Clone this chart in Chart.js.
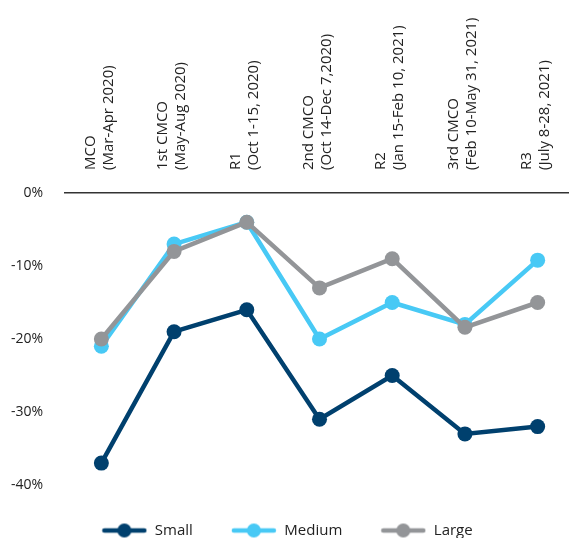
<!DOCTYPE html>
<html>
<head>
<meta charset="utf-8">
<script src="https://cdn.jsdelivr.net/npm/chart.js@4.4.1/dist/chart.umd.min.js"></script>
<style>
	html, body { margin: 0; padding: 0; background: #fff; overflow: hidden; }
	#wrap { position: relative; width: 574px; height: 538px; }
</style>
</head>
<body>
<div id="wrap"><canvas id="phaseChart"></canvas></div>
<script>
// Phases (two-line labels)
const phases = [
	['MCO', '(Mar-Apr 2020)'],
	['1st CMCO', '(May-Aug 2020)'],
	['R1', '(Oct 1-15, 2020)'],
	['2nd CMCO', '(Oct 14-Dec 7,2020)'],
	['R2', '(Jan 15-Feb 10, 2021)'],
	['3rd CMCO', '(Feb 10-May 31, 2021)'],
	['R3', '(July 8-28, 2021)']
];

// Percent change by firm size
const smallFirms = [-37, -19, -16, -31, -25, -33, -32];
const mediumFirms = [-21, -7, -4, -20, -15, -18, -9.2];
const largeFirms = [-20, -8, -4, -13, -9, -18.4, -15];

const yTicks = [0, -10, -20, -30, -40];

const COLORS = { small: '#00406e', medium: '#48c9f5', large: '#939598' };
const FONT = '"Open Sans", Lato, sans-serif';

// line-with-dot icon for the legend
function legendIcon(color) {
	const c = document.createElement('canvas');
	c.width = 46;
	c.height = 16;
	const ctx = c.getContext('2d');
	ctx.strokeStyle = color;
	ctx.lineWidth = 4.5;
	ctx.lineCap = 'round';
	ctx.beginPath();
	ctx.moveTo(3, 8);
	ctx.lineTo(43, 8);
	ctx.stroke();
	ctx.fillStyle = color;
	ctx.beginPath();
	ctx.arc(23, 8, 7, 0, Math.PI * 2);
	ctx.fill();
	return c;
}
const icons = [legendIcon(COLORS.small), legendIcon(COLORS.medium), legendIcon(COLORS.large)];

function series(label, data, color, order) {
	return {
		label: label,
		data: data,
		borderColor: color,
		backgroundColor: color,
		borderWidth: 4.5,
		pointRadius: 7.5,
		pointHoverRadius: 7.5,
		pointBackgroundColor: color,
		pointBorderWidth: 0,
		tension: 0,
		order: order
	};
}

new Chart(document.getElementById('phaseChart'), {
	type: 'line',
	data: {
		labels: phases,
		datasets: [
			series('Small', smallFirms, COLORS.small, 2),
			series('Medium', mediumFirms, COLORS.medium, 1),
			series('Large', largeFirms, COLORS.large, 0)
		]
	},
	options: {
		responsive: true,
		maintainAspectRatio: false,
		animation: false,
		layout: { autoPadding: false, padding: { left: 0, top: 0, right: 0, bottom: -10 } },
		plugins: {
			tooltip: { enabled: false },
			legend: {
				position: 'bottom',
				labels: {
					usePointStyle: true,
					pointStyleWidth: 46,
					padding: 38,
					color: '#222',
					font: { family: FONT, size: 15 },
					generateLabels: chart => Chart.defaults.plugins.legend.labels.generateLabels(chart)
						.sort((a, b) => a.datasetIndex - b.datasetIndex)
						.map(item => Object.assign(item, { pointStyle: icons[item.datasetIndex] }))
				}
			}
		},
		scales: {
			x: {
				position: 'top',
				offset: true,
				grid: { display: false, drawTicks: false },
				border: { display: true, color: '#333', width: 1.5 },
				afterFit: axis => {
					axis.height = 193;
					axis.paddingLeft = 0;
					axis.paddingRight = 0;
				},
				ticks: {
					minRotation: 90,
					maxRotation: 90,
					autoSkip: false,
					padding: 23,
					labelOffset: 25,
					color: '#222',
					font: { family: FONT, size: 15 }
				}
			},
			y: {
				min: -40,
				max: 0,
				grid: { display: false, drawTicks: false },
				border: { display: false },
				afterBuildTicks: axis => { axis.ticks = yTicks.map(v => ({ value: v })); },
				afterFit: axis => { axis.width = 65; },
				ticks: {
					padding: 22,
					color: '#222',
					font: { family: FONT, size: 14 },
					callback: v => v + '%'
				}
			}
		}
	}
});
</script>
</body>
</html>
